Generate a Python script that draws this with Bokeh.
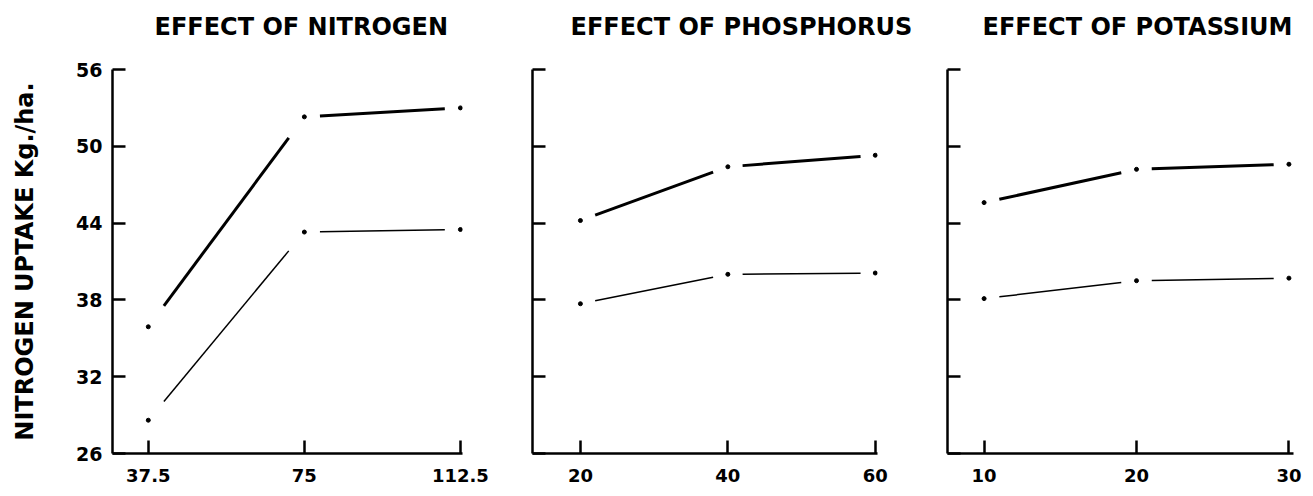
from bokeh.plotting import figure
from bokeh.models import Range1d, FixedTicker, Title, ColumnDataSource
from bokeh.layouts import row
from bokeh.embed import file_html
from bokeh.resources import INLINE

# ---- data ----
n_rates = [37.5, 75, 112.5]
n_upper = [35.9, 52.3, 53.0]
n_lower = [28.6, 43.3, 43.5]

p_rates = [20, 40, 60]
p_upper = [44.2, 48.4, 49.3]
p_lower = [37.7, 40.0, 40.1]

k_rates = [10, 20, 30]
k_upper = [45.6, 48.2, 48.6]
k_lower = [38.1, 39.5, 39.7]

y_ticks = [26, 32, 38, 44, 50, 56]
titles = ["EFFECT OF NITROGEN", "EFFECT OF PHOSPHORUS", "EFFECT OF POTASSIUM"]
y_label = "NITROGEN UPTAKE Kg./ha."

FONT = "DejaVu Sans"
GAP = 0.1


def gapped(xs, ys):
    x0, y0, x1, y1 = [], [], [], []
    for i in range(len(xs) - 1):
        dx = xs[i + 1] - xs[i]
        dy = ys[i + 1] - ys[i]
        x0.append(xs[i] + GAP * dx)
        y0.append(ys[i] + GAP * dy)
        x1.append(xs[i] + (1 - GAP) * dx)
        y1.append(ys[i] + (1 - GAP) * dy)
    return ColumnDataSource(dict(x0=x0, y0=y0, x1=x1, y1=y1))


def panel(xs, up, lo, xr, fw, bl, br, title, t_off, first=False):
    p = figure(frame_width=fw, frame_height=384,
               min_border_left=bl, min_border_right=br,
               min_border_top=69, min_border_bottom=43,
               x_range=Range1d(*xr), y_range=Range1d(26, 56),
               output_backend="svg", toolbar_location=None)
    p.outline_line_color = None
    p.grid.visible = False
    p.background_fill_color = "white"
    p.border_fill_color = "white"
    for ax in (p.xaxis[0], p.yaxis[0]):
        ax.axis_line_width = 2.5
        ax.axis_line_color = "black"
        ax.major_tick_line_width = 2.5
        ax.major_tick_line_color = "black"
        ax.major_tick_in = 13
        ax.major_tick_out = 0
        ax.minor_tick_line_width = 2.5
        ax.minor_tick_line_color = "black"
        ax.minor_tick_in = 13
        ax.minor_tick_out = 0
        ax.major_label_text_font = FONT
        ax.major_label_text_font_style = "bold"
        ax.major_label_text_color = "black"
    p.xaxis.ticker = FixedTicker(ticks=xs, minor_ticks=[])
    p.xaxis.major_label_text_font_size = "18px"
    p.xaxis.major_label_standoff = 15
    if first:
        p.yaxis.ticker = FixedTicker(ticks=y_ticks, minor_ticks=[])
        p.yaxis.major_label_text_font_size = "19px"
        p.yaxis.major_label_standoff = 10
        p.yaxis.axis_label = y_label
        p.yaxis.axis_label_text_font = FONT
        p.yaxis.axis_label_text_font_style = "bold"
        p.yaxis.axis_label_text_font_size = "24px"
        p.yaxis.axis_label_standoff = 34
        p.yaxis.axis_label_text_color = "black"
    else:
        # ticks without numbers on the other two panels
        p.yaxis.ticker = FixedTicker(ticks=[], minor_ticks=y_ticks)

    p.segment("x0", "y0", "x1", "y1", source=gapped(xs, up), line_width=3, line_color="black")
    p.segment("x0", "y0", "x1", "y1", source=gapped(xs, lo), line_width=1.5, line_color="black")
    p.scatter(xs, up, size=4, color="black")
    p.scatter(xs, lo, size=4, color="black")

    # blank spacer next to the frame, then the real title above it
    p.add_layout(Title(text=" ", standoff=4, text_font_size="12px"), "above")
    p.add_layout(Title(text=title, align="left", offset=t_off, standoff=18,
                       text_font=FONT, text_font_style="bold", text_font_size="24px",
                       text_color="black"), "above")
    return p


p1 = panel(n_rates, n_upper, n_lower, (28.9, 113.0), 350, 112, 28, titles[0], 42, first=True)
p2 = panel(p_rates, p_upper, p_lower, (13.5, 60.3), 345, 42, 40, titles[1], 38)
p3 = panel(k_rates, k_upper, k_lower, (7.6, 30.3), 346, 30, 20, titles[2], 35)

layout = row(p1, p2, p3, spacing=0)
open("out.html", "w").write(file_html(layout, INLINE))
